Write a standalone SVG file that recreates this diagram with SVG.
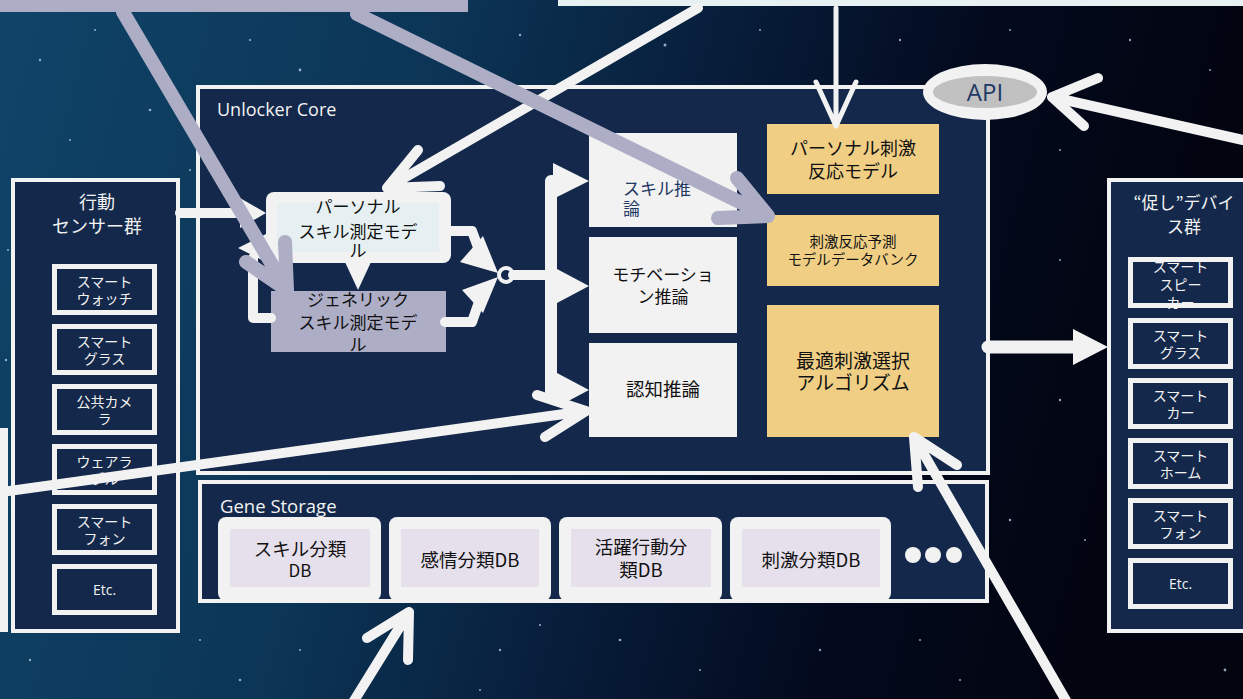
<svg xmlns="http://www.w3.org/2000/svg" width="1243" height="699" viewBox="0 0 1243 699">
<defs>
<linearGradient id="bg" x1="0" y1="0" x2="1" y2="0.15">
<stop offset="0" stop-color="#0f4468"/>
<stop offset="0.35" stop-color="#0c3556"/>
<stop offset="0.58" stop-color="#071d3a"/>
<stop offset="0.78" stop-color="#030a1e"/>
<stop offset="1" stop-color="#02040f"/>
</linearGradient>
<style>
.jp{font-family:"Noto Sans CJK JP","Noto Sans",sans-serif;}
.lat{font-family:"Open Sans","Noto Sans",sans-serif;}
.w{fill:#f2f2f2;}
.panel{fill:#13284a;stroke:#f2f2f2;stroke-width:4;}
.dev{fill:#13284a;stroke:#f2f2f2;stroke-width:5;}
.devt{fill:#f2f2f2;font-size:14px;text-anchor:middle;}
.wl{fill:none;stroke:#f2f2f2;stroke-linecap:round;stroke-linejoin:round;}
.lv{fill:none;stroke:#adadc6;stroke-width:14;stroke-linecap:round;stroke-linejoin:round;}
.ochre{fill:#f0cf85;}
.inf{fill:#f2f2f2;}
.dbo{fill:#f2f2f2;}
.dbi{fill:#e6e0ec;}
.bt{fill:#111;text-anchor:middle;}
.star{fill:#cfe2ff;}
</style>
</defs>
<rect x="0" y="0" width="1243" height="699" fill="url(#bg)"/>
<g id="stars" opacity="0.7">
<circle class="star" cx="40" cy="60" r="1.2"/><circle class="star" cx="95" cy="30" r="1"/><circle class="star" cx="150" cy="110" r="1.3"/>
<circle class="star" cx="70" cy="140" r="1"/><circle class="star" cx="250" cy="40" r="1.1"/><circle class="star" cx="300" cy="70" r="1.4"/>
<circle class="star" cx="420" cy="50" r="1"/><circle class="star" cx="520" cy="35" r="1.2"/><circle class="star" cx="600" cy="60" r="1"/>
<circle class="star" cx="665" cy="45" r="1.5"/><circle class="star" cx="760" cy="30" r="1"/><circle class="star" cx="900" cy="40" r="1.2"/>
<circle class="star" cx="1010" cy="30" r="1"/><circle class="star" cx="1130" cy="40" r="1.2"/><circle class="star" cx="1210" cy="70" r="1"/>
<circle class="star" cx="1060" cy="150" r="1"/><circle class="star" cx="1060" cy="260" r="1"/><circle class="star" cx="1010" cy="520" r="1.3"/>
<circle class="star" cx="1085" cy="540" r="1"/><circle class="star" cx="1060" cy="400" r="1.2"/><circle class="star" cx="1225" cy="670" r="1.4"/>
<circle class="star" cx="30" cy="660" r="1.2"/><circle class="star" cx="200" cy="640" r="1"/><circle class="star" cx="240" cy="680" r="1.3"/>
<circle class="star" cx="300" cy="650" r="1"/><circle class="star" cx="500" cy="650" r="1.2"/><circle class="star" cx="480" cy="690" r="1"/>
<circle class="star" cx="620" cy="640" r="1.3"/><circle class="star" cx="700" cy="670" r="1"/><circle class="star" cx="820" cy="650" r="1.2"/>
<circle class="star" cx="920" cy="640" r="1"/><circle class="star" cx="960" cy="680" r="1.1"/><circle class="star" cx="8" cy="250" r="1"/>
<circle class="star" cx="6" cy="360" r="1.2"/><circle class="star" cx="190" cy="170" r="1"/><circle class="star" cx="540" cy="625" r="1.1"/>
</g>

<g id="top-left-box"><rect x="0" y="0" width="468" height="12" fill="#adadc6"/></g>
<g id="top-right-box"><rect x="558" y="0" width="685" height="6" fill="#e8f1f2"/></g>
<g id="left-edge-box"><rect x="0" y="428" width="8" height="204" class="w"/></g>

<g id="unlocker-core">
<rect x="198" y="87" width="790" height="386" class="panel"/>
<text x="217" y="116" class="lat" font-size="18" fill="#f2f2f2">Unlocker Core</text>
</g>

<g id="api">
<ellipse cx="985" cy="92" rx="62" ry="28" class="w"/>
<ellipse cx="985" cy="92" rx="52" ry="16" fill="#c0c0c0"/>
<text x="985" y="101" class="lat" font-size="24" fill="#1f3864" text-anchor="middle">API</text>
</g>

<g id="gene-storage">
<rect x="200" y="482" width="787" height="119" class="panel"/>
<text x="220" y="513" class="lat" font-size="18.5" fill="#f2f2f2">Gene Storage</text>
</g>
<g id="db-skill">
<rect x="218" y="517" width="163" height="84" rx="8" class="dbo"/>
<rect x="230" y="529" width="140" height="58" class="dbi"/>
<text class="jp bt" font-size="18.5"><tspan x="300" y="556">スキル分類</tspan><tspan x="300" y="577" font-size="17">DB</tspan></text>
</g>
<g id="db-emotion">
<rect x="389" y="517" width="162" height="84" rx="8" class="dbo"/>
<rect x="401" y="529" width="138" height="58" class="dbi"/>
<text class="jp bt" font-size="18.5" x="470" y="567">感情分類DB</text>
</g>
<g id="db-activity">
<rect x="559" y="517" width="163" height="84" rx="8" class="dbo"/>
<rect x="571" y="529" width="140" height="58" class="dbi"/>
<text class="jp bt" font-size="18.5"><tspan x="641" y="554">活躍行動分</tspan><tspan x="641" y="577">類DB</tspan></text>
</g>
<g id="db-stimulus">
<rect x="730" y="517" width="161" height="84" rx="8" class="dbo"/>
<rect x="742" y="529" width="138" height="58" class="dbi"/>
<text class="jp bt" font-size="18.5" x="811" y="567">刺激分類DB</text>
</g>
<g id="db-more">
<circle cx="913" cy="555" r="8" class="w"/><circle cx="933" cy="555" r="8" class="w"/><circle cx="954" cy="555" r="8" class="w"/>
</g>

<g id="sensor-group">
<rect x="13" y="180" width="165" height="451" class="panel"/>
<text class="jp" font-size="18" fill="#f2f2f2" text-anchor="middle"><tspan x="97" y="209">行動</tspan><tspan x="97" y="233">センサー群</tspan></text>
</g>
<g id="sensor-watch"><rect x="54.5" y="266.5" width="100" height="46" class="dev"/><text class="jp devt"><tspan x="104.5" y="287">スマート</tspan><tspan x="104.5" y="304">ウォッチ</tspan></text></g>
<g id="sensor-glass"><rect x="54.5" y="326.5" width="100" height="46" class="dev"/><text class="jp devt"><tspan x="104.5" y="347">スマート</tspan><tspan x="104.5" y="364">グラス</tspan></text></g>
<g id="sensor-camera"><rect x="54.5" y="386.5" width="100" height="46" class="dev"/><text class="jp devt"><tspan x="104.5" y="407">公共カメ</tspan><tspan x="104.5" y="424">ラ</tspan></text></g>
<g id="sensor-wearable"><rect x="54.5" y="446.5" width="100" height="46" class="dev"/><text class="jp devt"><tspan x="104.5" y="467">ウェアラ</tspan><tspan x="104.5" y="484">ブル</tspan></text></g>
<g id="sensor-phone"><rect x="54.5" y="506.5" width="100" height="46" class="dev"/><text class="jp devt"><tspan x="104.5" y="527">スマート</tspan><tspan x="104.5" y="544">フォン</tspan></text></g>
<g id="sensor-etc"><rect x="54.5" y="566.5" width="100" height="46" class="dev"/><text class="lat devt" font-size="13" x="104.5" y="595">Etc.</text></g>

<g id="device-group">
<rect x="1109" y="180" width="140" height="451" class="panel"/>
<text class="jp" font-size="17" fill="#f2f2f2" text-anchor="middle"><tspan x="1184" y="209">“促し”デバイ</tspan><tspan x="1184" y="233">ス群</tspan></text>
</g>
<g id="device-speaker"><rect x="1130.5" y="259.5" width="100" height="46" class="dev"/><text class="jp devt"><tspan x="1180.5" y="272">スマート</tspan><tspan x="1180.5" y="290">スピー</tspan><tspan x="1180.5" y="308">カー</tspan></text></g>
<g id="device-glass"><rect x="1130.5" y="320.5" width="100" height="46" class="dev"/><text class="jp devt"><tspan x="1180.5" y="341">スマート</tspan><tspan x="1180.5" y="358">グラス</tspan></text></g>
<g id="device-car"><rect x="1130.5" y="380.5" width="100" height="46" class="dev"/><text class="jp devt"><tspan x="1180.5" y="401">スマート</tspan><tspan x="1180.5" y="418">カー</tspan></text></g>
<g id="device-home"><rect x="1130.5" y="440.5" width="100" height="46" class="dev"/><text class="jp devt"><tspan x="1180.5" y="461">スマート</tspan><tspan x="1180.5" y="478">ホーム</tspan></text></g>
<g id="device-phone"><rect x="1130.5" y="500.5" width="100" height="46" class="dev"/><text class="jp devt"><tspan x="1180.5" y="521">スマート</tspan><tspan x="1180.5" y="538">フォン</tspan></text></g>
<g id="device-etc"><rect x="1130.5" y="560.5" width="100" height="46" class="dev"/><text class="lat devt" font-size="13" x="1180.5" y="589">Etc.</text></g>

<g id="personal-skill-model">
<rect x="266" y="192" width="185" height="71" rx="8" class="w"/>
<rect x="277" y="203" width="162" height="49" fill="#e6f0f2"/>
<text class="jp bt" font-size="17"><tspan x="358" y="213">パーソナル</tspan><tspan x="358" y="238">スキル測定モデ</tspan><tspan x="358" y="257">ル</tspan></text>
</g>
<g id="generic-skill-model">
<rect x="271" y="291" width="175" height="61" fill="#adadc6"/>
<text class="jp bt" font-size="17"><tspan x="358" y="306">ジェネリック</tspan><tspan x="358" y="329">スキル測定モデ</tspan><tspan x="358" y="351">ル</tspan></text>
</g>
<g id="skill-inference">
<rect x="589" y="133" width="148" height="94" class="inf"/>
<text class="jp" font-size="17" fill="#1f3864"><tspan x="623" y="195">スキル推</tspan><tspan x="623" y="215">論</tspan></text>
</g>
<g id="motivation-inference">
<rect x="589" y="237" width="148" height="96" class="inf"/>
<text class="jp bt" font-size="17"><tspan x="663" y="281">モチベーショ</tspan><tspan x="663" y="303">ン推論</tspan></text>
</g>
<g id="cognitive-inference">
<rect x="589" y="343" width="148" height="94" class="inf"/>
<text class="jp bt" font-size="18.5" x="663" y="396">認知推論</text>
</g>
<g id="personal-stimulus-model">
<rect x="767" y="124" width="172" height="70" class="ochre"/>
<text class="jp bt" font-size="18"><tspan x="853" y="155">パーソナル刺激</tspan><tspan x="853" y="178">反応モデル</tspan></text>
</g>
<g id="stimulus-model-bank">
<rect x="767" y="215" width="172" height="71" class="ochre"/>
<text class="jp bt" font-size="14.5"><tspan x="853" y="247">刺激反応予測</tspan><tspan x="853" y="265">モデルデータバンク</tspan></text>
</g>
<g id="optimal-stimulus-algorithm">
<rect x="767" y="305" width="172" height="132" class="ochre"/>
<text class="jp bt" font-size="19"><tspan x="853" y="368">最適刺激選択</tspan><tspan x="853" y="390">アルゴリズム</tspan></text>
</g>

<g id="connectors">
<path class="wl" stroke-width="10" d="M180,213 H248"/>
<polygon class="w" points="266,213 240,198 240,228"/>
<path class="wl" stroke-width="10" d="M271,318 H253 V258"/>
<polygon class="w" points="238,248 266,234 266,262"/>
<polygon class="w" points="345,262 371,262 358,290"/>
<path class="wl" stroke-width="10" d="M450,231 H472 L479,250"/>
<polygon class="w" points="498,273 460,262 483,236"/>
<path class="wl" stroke-width="10" d="M445,322 H472 L479,302"/>
<polygon class="w" points="498,277 462,290 483,313"/>
<circle cx="506" cy="275" r="7" fill="#13284a" stroke="#f2f2f2" stroke-width="4"/>
<path class="wl" stroke-width="10" d="M513,275 H551"/>
<path class="wl" stroke-width="12" d="M562,181 H551 V392 H562"/>
<path class="wl" stroke-width="12" d="M551,286 H562"/>
<polygon class="w" points="589,181 553,163 553,199"/>
<polygon class="w" points="589,286 557,269 557,303"/>
<polygon class="w" points="589,390 557,373 557,407"/>
<path class="wl" stroke-width="13" stroke-linecap="butt" d="M988,347 H1078"/>
<polygon class="w" points="1108,347 1073,329 1073,365"/>
<path class="wl" stroke-width="5" d="M836,8 V126 M816,82 L836,126 L856,82"/>
<path class="wl" stroke-width="10" d="M698,8 L387,188 M418,150 L387,188 L440,186"/>
<path class="lv" d="M123,12 L287,290 M285,242 L287,290 L246,262"/>
<path class="lv" d="M357,14 L768,216 M737,178 L768,216 L718,218"/>
<path class="wl" stroke-width="10" d="M1243,140 L1052,97 M1098,78 L1052,97 L1084,126"/>
<path class="wl" stroke-width="10" d="M-5,493 L586,411 M537,395 L586,411 L545,437"/>
<path class="wl" stroke-width="10" d="M352,704 L409,612 M367,638 L409,612 L408,660"/>
<path class="wl" stroke-width="10" d="M1068,704 L914,437 M957,465 L914,437 L918,487"/>
</g>
</svg>
